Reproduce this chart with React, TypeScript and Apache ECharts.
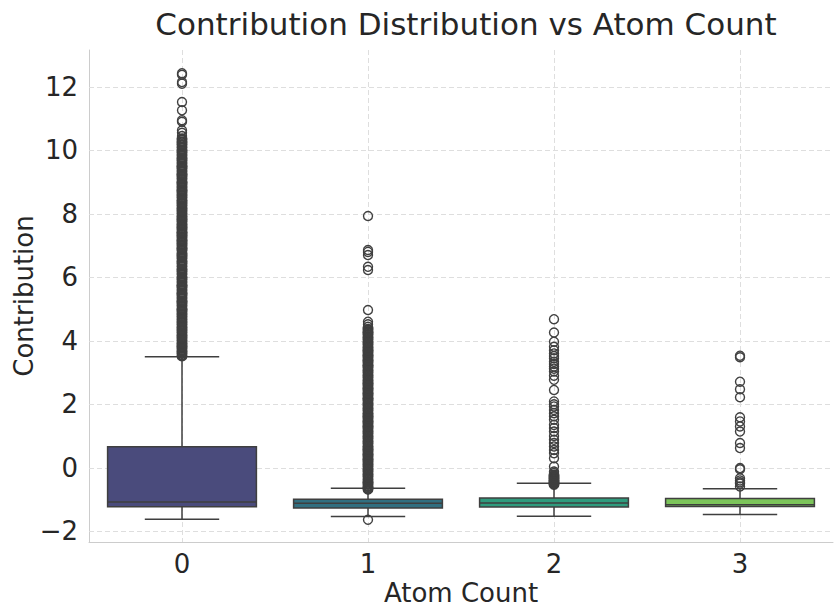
import React, { useEffect, useRef } from "react";
import * as echarts from "echarts";

const categories = ["0", "1", "2", "3"];
// [lower whisker, Q1, median, Q3, upper whisker]
const boxStats = [
  [-1.62, -1.23, -1.08, 0.66, 3.5],
  [-1.54, -1.27, -1.12, -0.99, -0.65],
  [-1.53, -1.24, -1.11, -0.95, -0.49],
  [-1.47, -1.22, -1.17, -0.97, -0.66],
];
const boxColors = ["#4a4b7c", "#316f80", "#2f9b7d", "#7cc55a"];

// outliers packed so densely that they merge into a solid column
const denseOutliers0 = [
  3.52, 3.6, 3.68, 3.76, 3.85, 3.93, 4.01, 4.1, 4.18, 4.26, 4.35, 4.43, 4.51, 4.6, 4.68, 4.76, 4.85, 4.93,
  5.01, 5.1, 5.18, 5.26, 5.35, 5.43, 5.51, 5.6, 5.68, 5.76, 5.85, 5.93, 6.01, 6.1, 6.18, 6.26, 6.35, 6.43,
  6.51, 6.6, 6.68, 6.76, 6.85, 6.93, 7.01, 7.1, 7.18, 7.26, 7.35, 7.43, 7.51, 7.6, 7.68, 7.76, 7.85, 7.93,
  8.01, 8.1, 8.18, 8.26, 8.35, 8.43, 8.51, 8.6, 8.68, 8.76, 8.85, 8.93, 9.01, 9.1, 9.18, 9.26, 9.35, 9.43,
  9.51, 9.6, 9.68, 9.76, 9.85, 9.93, 10.01, 10.1, 10.18, 10.27, 10.36,
];
const sparseOutliers0 = [10.45, 10.55, 10.63, 10.9, 10.95, 11.26, 11.52, 12.1, 12.15, 12.38, 12.43];
const denseOutliers1 = [
  -0.68, -0.6, -0.52, -0.44, -0.36, -0.28, -0.2, -0.12, -0.04, 0.04, 0.12, 0.2, 0.28, 0.36, 0.44,
  0.52, 0.6, 0.68, 0.76, 0.84, 0.92, 1.0, 1.08, 1.16, 1.24, 1.32, 1.4, 1.48, 1.56, 1.64, 1.72, 1.8, 1.88,
  1.96, 2.04, 2.12, 2.2, 2.28, 2.36, 2.44, 2.52, 2.6, 2.68, 2.76, 2.84, 2.92, 3.0, 3.08, 3.16, 3.24, 3.32,
  3.4, 3.48, 3.56, 3.64, 3.72, 3.8, 3.88, 3.96, 4.04, 4.12, 4.2, 4.28, 4.36,
];
const sparseOutliers1 = [-1.64, 4.44, 4.52, 4.6, 4.97, 6.23, 6.33, 6.7, 6.8, 6.86, 7.93];
const denseOutliers2 = [-0.53, -0.47, -0.41, -0.35, -0.29, -0.23];
const sparseOutliers2 = [
  -0.17, -0.12, 0.04, 0.3, 0.46, 0.56, 0.67, 0.78, 0.88, 1.0, 1.14, 1.25, 1.35, 1.51, 1.62, 1.72, 1.82,
  1.93, 2.0, 2.09, 2.45, 2.77, 2.9, 3.03, 3.12, 3.19, 3.27, 3.34, 3.45, 3.52, 3.6, 3.7, 3.81, 3.97, 4.26,
  4.68,
];
const denseOutliers3: number[] = [];
const sparseOutliers3 = [
  -0.59, -0.5, -0.46, -0.4, -0.33, -0.05, -0.01, 0.62, 0.78, 1.14, 1.3, 1.46, 1.59, 2.22, 2.47, 2.71, 3.48,
  3.53,
];
const denseLists = [denseOutliers0, denseOutliers1, denseOutliers2, denseOutliers3];
const sparseLists = [sparseOutliers0, sparseOutliers1, sparseOutliers2, sparseOutliers3];
const yTickValues = [-2, 0, 2, 4, 6, 8, 10, 12];

const TEXT = "#262626";
const LINE = "#3f3f3f";
const GRID = "#dedede";
const FONT = "DejaVu Sans";

export default function App() {
  const ref = useRef<HTMLDivElement>(null);
  useEffect(() => {
    document.body.style.margin = "0";
    if (!ref.current) return;
    const chart = echarts.init(ref.current, undefined, { renderer: "svg" });

    const boxData = boxStats.map((s, i) => [i, ...s]);
    const toPoints = (lists: number[][]) => {
      const out: number[][] = [];
      lists.forEach((list, i) => list.forEach((v) => out.push([i, v])));
      return out;
    };
    // grid rows: [0, tick value] ; grid columns: [category index, 0]
    const gridRows = yTickValues.map((v) => [0, v]);
    const gridCols = categories.map((_, i) => [i, 0]);
    const dash = [5, 3];

    chart.setOption({
      animation: false,
      backgroundColor: "#ffffff",
      title: {
        text: "Contribution Distribution vs Atom Count",
        left: 461,
        top: 3,
        textAlign: "center",
        textStyle: { fontFamily: FONT, fontSize: 31, fontWeight: "normal", color: TEXT },
      },
      grid: { left: 89, right: 1, top: 50, bottom: 65, containLabel: false, outerBoundsMode: "none" },
      xAxis: {
        type: "category",
        data: categories,
        boundaryGap: true,
        name: "Atom Count",
        nameLocation: "middle",
        nameGap: 38,
        nameMoveOverlap: false,
        nameTextStyle: { fontFamily: FONT, fontSize: 26, color: TEXT, lineHeight: 26 },
        axisLine: { show: true, onZero: false, lineStyle: { color: "#cccccc", width: 1 } },
        axisTick: { show: false },
        axisLabel: { fontFamily: FONT, fontSize: 26, color: TEXT, margin: 9 },
        splitLine: { show: false },
      },
      yAxis: {
        type: "value",
        min: -2.34,
        max: 13.16,
        name: "Contribution",
        nameLocation: "middle",
        nameGap: 52,
        nameMoveOverlap: false,
        nameTextStyle: { fontFamily: FONT, fontSize: 26, color: TEXT, lineHeight: 26 },
        axisLine: { show: true, lineStyle: { color: "#cccccc", width: 1 } },
        axisTick: { show: false, customValues: yTickValues },
        axisLabel: {
          fontFamily: FONT,
          fontSize: 26,
          color: TEXT,
          margin: 11,
          customValues: yTickValues,
          formatter: (v: number) => (v < 0 ? "\u2212" + Math.abs(v) : String(v)),
        },
        splitLine: { show: false },
      },
      series: [
        {
          type: "custom",
          z: 1,
          silent: true,
          data: gridRows,
          encode: { x: 0, y: 1 },
          renderItem: (params: any, api: any) => {
            const cs = params.coordSys;
            const y = Math.round(api.coord([0, api.value(1)])[1]) + 0.5;
            return {
              type: "line",
              shape: { x1: cs.x, y1: y, x2: cs.x + cs.width, y2: y },
              style: { stroke: GRID, lineWidth: 1, lineDash: dash },
            };
          },
        },
        {
          type: "custom",
          z: 1,
          silent: true,
          data: gridCols,
          encode: { x: 0, y: 1 },
          renderItem: (params: any, api: any) => {
            const cs = params.coordSys;
            const x = Math.round(api.coord([api.value(0), 0])[0]) + 0.5;
            return {
              type: "line",
              shape: { x1: x, y1: cs.y, x2: x, y2: cs.y + cs.height },
              style: { stroke: GRID, lineWidth: 1, lineDash: dash },
            };
          },
        },
        {
          type: "custom",
          z: 2,
          data: boxData,
          encode: { x: 0, y: [1, 2, 3, 4, 5] },
          renderItem: (params: any, api: any) => {
            const idx = api.value(0);
            const lw = api.value(1);
            const q1 = api.value(2);
            const med = api.value(3);
            const q3 = api.value(4);
            const uw = api.value(5);
            const cx = api.coord([idx, med])[0];
            const band = api.size([1, 0])[0];
            const bw = band * 0.8;
            const cw = bw * 0.5;
            const yLw = api.coord([idx, lw])[1];
            const yQ1 = api.coord([idx, q1])[1];
            const yMed = api.coord([idx, med])[1];
            const yQ3 = api.coord([idx, q3])[1];
            const yUw = api.coord([idx, uw])[1];
            const ls = { stroke: LINE, lineWidth: 1.5 };
            return {
              type: "group",
              children: [
                { type: "line", shape: { x1: cx, y1: yQ1, x2: cx, y2: yLw }, style: ls },
                { type: "line", shape: { x1: cx, y1: yQ3, x2: cx, y2: yUw }, style: ls },
                { type: "line", shape: { x1: cx - cw / 2, y1: yLw, x2: cx + cw / 2, y2: yLw }, style: ls },
                { type: "line", shape: { x1: cx - cw / 2, y1: yUw, x2: cx + cw / 2, y2: yUw }, style: ls },
                {
                  type: "rect",
                  shape: { x: cx - bw / 2, y: yQ3, width: bw, height: yQ1 - yQ3 },
                  style: { fill: boxColors[params.dataIndex], stroke: LINE, lineWidth: 1.5 },
                },
                { type: "line", shape: { x1: cx - bw / 2, y1: yMed, x2: cx + bw / 2, y2: yMed }, style: ls },
              ],
            };
          },
        },
        {
          type: "scatter",
          z: 3,
          data: toPoints(denseLists),
          symbol: "circle",
          symbolSize: 8.5,
          itemStyle: { color: "rgba(255,255,255,0)", borderColor: LINE, borderWidth: 2.6, opacity: 1 },
          emphasis: { disabled: true },
        },
        {
          type: "scatter",
          z: 3,
          data: toPoints(sparseLists),
          symbol: "circle",
          symbolSize: 9,
          itemStyle: { color: "rgba(255,255,255,0)", borderColor: LINE, borderWidth: 1.4, opacity: 1 },
          emphasis: { disabled: true },
        },
      ],
    });
    return () => chart.dispose();
  }, []);
  return <div ref={ref} style={{ width: 834, height: 607 }} />;
}
